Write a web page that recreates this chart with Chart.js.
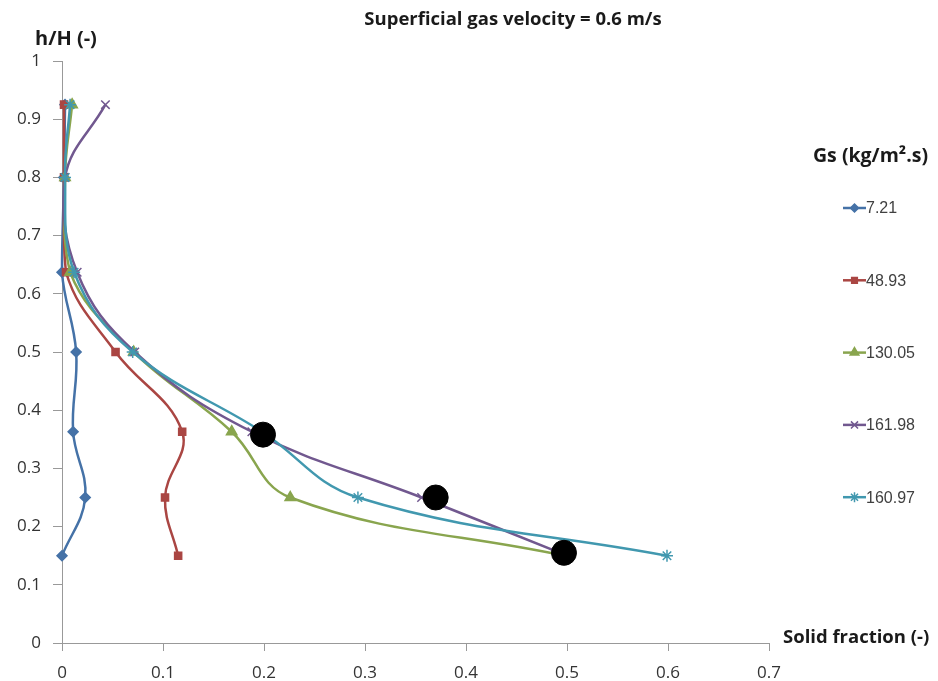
<!DOCTYPE html>
<html>
<head>
<meta charset="utf-8">
<script src="https://cdn.jsdelivr.net/npm/chart.js@4"></script>
<style>
  html, body { margin: 0; padding: 0; background: #fff; }
  #wrap { width: 938px; height: 681px; position: relative; }
</style>
</head>
<body>
<div id="wrap"><canvas id="c" width="938" height="681"></canvas></div>
<script>
// heights h/H where measurements were taken
const heights = [0.15, 0.25, 0.363, 0.5, 0.637, 0.8, 0.925];

// solid fraction for each Gs (kg/m2.s)
const gs721   = [0.000, 0.023, 0.011, 0.014, 0.000, 0.002, 0.003];
const gs4893  = [0.115, 0.102, 0.119, 0.053, 0.004, 0.002, 0.002];
const gs13005 = [0.497, 0.226, 0.168, 0.071, 0.008, 0.003, 0.010];
const gs16198 = [0.500, 0.356, 0.188, 0.072, 0.015, 0.003, 0.043];
const gs16097 = [0.599, 0.293, 0.198, 0.070, 0.012, 0.003, 0.008];

// highlighted points (black dots)
const markX = [0.199, 0.370, 0.497];
const markY = [0.358, 0.250, 0.155];

const xTicks = [0, 0.1, 0.2, 0.3, 0.4, 0.5, 0.6, 0.7];
const legendLabels = ["7.21", "48.93", "130.05", "161.98", "160.97"];

function pts(xs, ys) { return xs.map((x, i) => ({ x: x, y: ys[i] })); }

const seriesStyle = [
  { color: "#4572A7", style: "rectRot", r: 5 },
  { color: "#AA4643", style: "rect", r: 5 },
  { color: "#89A54E", style: "triangle", r: 6 },
  { color: "#71588F", style: "crossRot", r: 6 },
  { color: "#4198AF", style: "star", r: 6 },
];
const series = [gs721, gs4893, gs13005, gs16198, gs16097];

const datasets = series.map((xs, i) => ({
  label: legendLabels[i],
  data: pts(xs, heights),
  showLine: true,
  borderColor: seriesStyle[i].color,
  backgroundColor: seriesStyle[i].color,
  borderWidth: 2.5,
  pointStyle: seriesStyle[i].style,
  pointRadius: seriesStyle[i].r,
  pointBorderWidth: 1.5,
  pointBorderColor: seriesStyle[i].color,
  tension: 0.4,
  order: 5 - i,
  clip: false,
}));
datasets.push({
  label: "marks",
  data: pts(markX, markY),
  showLine: false,
  pointStyle: "circle",
  pointRadius: 12.5,
  backgroundColor: "#000",
  borderColor: "#000",
  order: 0,
  clip: false,
});

// titles and the side legend are plain text drawn on the canvas
const textPlugin = {
  id: "texts",
  afterDraw(chart) {
    const ctx = chart.ctx;
    ctx.save();
    ctx.fillStyle = "#1a1a1a";
    ctx.textBaseline = "middle";
    ctx.font = "bold 18.5px 'Open Sans'";
    ctx.textAlign = "center";
    ctx.fillText("Superficial gas velocity = 0.6 m/s", 513, 20);
    ctx.textAlign = "left";
    ctx.font = "bold 20px 'Open Sans'";
    ctx.fillText("h/H (-)", 35, 39);
    ctx.font = "bold 18.5px 'Open Sans'";
    ctx.fillText("Solid fraction (-)", 783, 638);
    ctx.font = "bold 19.5px 'Open Sans'";
    ctx.fillText("Gs (kg/m\u00B2.s)", 813, 156);

    // legend entries
    const top = 208, step = 72.3;
    seriesStyle.forEach((s, i) => {
      const y = top + i * step;
      ctx.strokeStyle = s.color;
      ctx.lineWidth = 2.5;
      ctx.beginPath();
      ctx.moveTo(843, y);
      ctx.lineTo(866, y);
      ctx.stroke();
      ctx.fillStyle = s.color;
      ctx.strokeStyle = s.color;
      ctx.lineWidth = 1.5;
      Chart.helpers.drawPoint(ctx, { pointStyle: s.style, radius: s.r - 1, borderWidth: 1.5, rotation: 0 }, 854.5, y);
      ctx.fillStyle = "#404040";
      ctx.font = "16px 'Liberation Sans'";
      ctx.fillText(legendLabels[i], 866, y + 1);
    });
    ctx.restore();
  }
};

new Chart(document.getElementById("c"), {
  type: "scatter",
  data: { datasets },
  options: {
    responsive: false,
    animation: false,
    layout: { padding: { left: 0, right: 169, top: 61, bottom: 0 } },
    plugins: { legend: { display: false }, tooltip: { enabled: false } },
    scales: {
      x: {
        type: "linear",
        min: 0, max: 0.7,
        afterBuildTicks(axis) { axis.ticks = xTicks.map(v => ({ value: v })); },
        afterFit(axis) { axis.height = 38; },
        grid: { display: true, drawOnChartArea: false, tickLength: 8, color: "#999" },
        border: { color: "#999", width: 1 },
        ticks: { color: "#333", padding: 12, font: { family: "'Open Sans'", size: 17 },
          callback: v => String(Math.round(v * 10) / 10) },
      },
      y: {
        type: "linear",
        min: 0, max: 1,
        afterBuildTicks(axis) {
          const t = [];
          for (let k = 0; k <= 10; k++) t.push({ value: k / 10 });
          axis.ticks = t;
        },
        afterFit(axis) { axis.width = 62; },
        grid: { display: true, drawOnChartArea: false, tickLength: 9, color: "#999" },
        border: { color: "#999", width: 1 },
        ticks: { color: "#333", padding: 12, font: { family: "'Open Sans'", size: 17 },
          callback: v => String(Math.round(v * 10) / 10) },
      },
    },
  },
  plugins: [textPlugin],
});
</script>
</body>
</html>
